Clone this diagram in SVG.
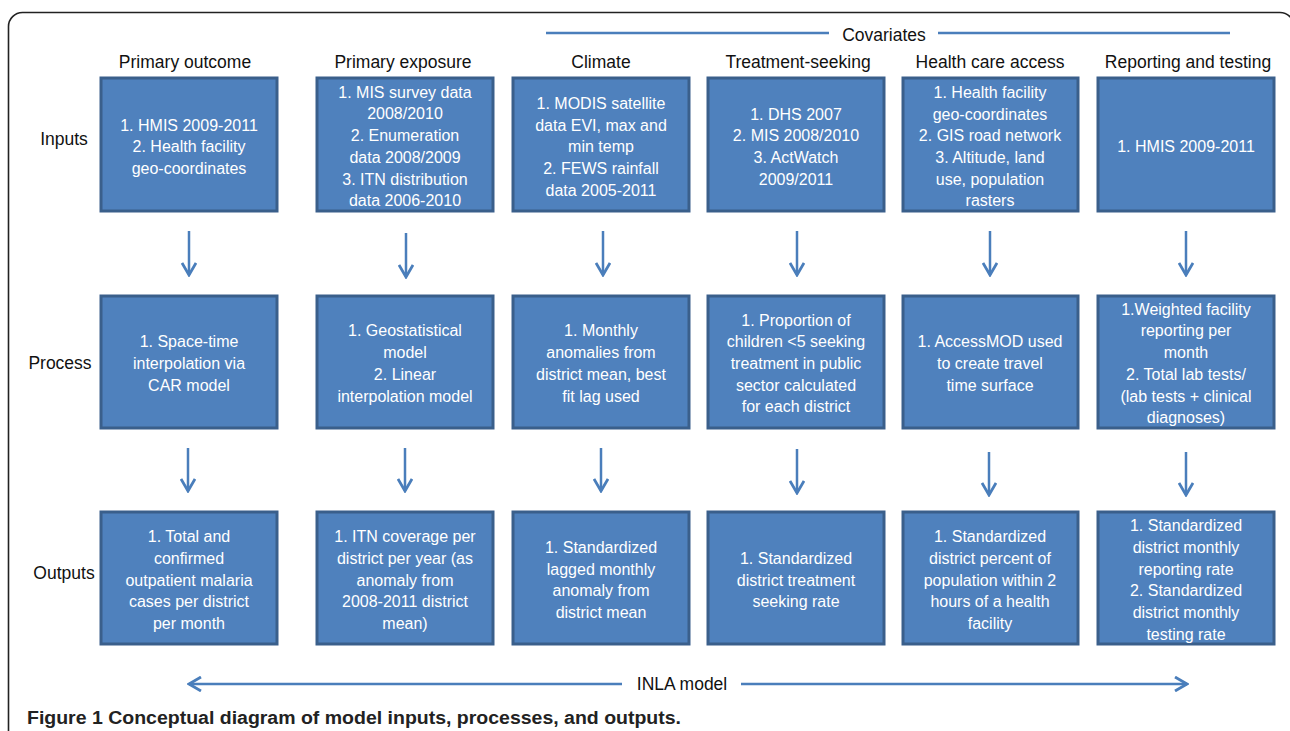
<svg xmlns="http://www.w3.org/2000/svg" width="1290" height="731" viewBox="0 0 1290 731">
<defs>
<style>
.box{fill:#4F81BD;stroke:#3A5F8B;stroke-width:3}
.bt{font-family:"Liberation Sans",Arial,sans-serif;font-size:16px;fill:#FFFFFF;text-anchor:middle}
.hd{font-family:"Liberation Sans",Arial,sans-serif;font-size:17.5px;fill:#111;text-anchor:middle}
.con{stroke:#4A7EBB;stroke-width:2.5;fill:none}
.cap{font-family:"Liberation Sans",Arial,sans-serif;font-size:18px;font-weight:bold;fill:#222}
</style>
<marker id="ah" viewBox="0 0 16 16" refX="14" refY="8" markerWidth="16" markerHeight="16" markerUnits="userSpaceOnUse" orient="auto-start-reverse">
<path d="M2,1 L14,8 L2,15" fill="none" stroke="#4A7EBB" stroke-width="2.8"/>
</marker>
</defs>
<rect width="1290" height="731" fill="#FFFFFF"/>
<rect x="8.5" y="12.5" width="1285.5" height="760" rx="14" fill="none" stroke="#222" stroke-width="1.6"/>

<!-- headers -->
<g id="headers">
<text class="hd" x="884" y="41">Covariates</text>
<text class="hd" x="185" y="68">Primary outcome</text>
<text class="hd" x="403" y="68">Primary exposure</text>
<text class="hd" x="601" y="68">Climate</text>
<text class="hd" x="798" y="68">Treatment-seeking</text>
<text class="hd" x="990" y="68">Health care access</text>
<text class="hd" x="1188" y="68">Reporting and testing</text>
<text class="hd" x="64" y="145">Inputs</text>
<text class="hd" x="60" y="369">Process</text>
<text class="hd" x="64" y="579">Outputs</text>
</g>

<g id="connectors">
<line class="con" x1="546" y1="33" x2="829" y2="33"/>
<line class="con" x1="938" y1="33" x2="1230" y2="33"/>
<line class="con" x1="189" y1="231" x2="189" y2="275" marker-end="url(#ah)"/>
<line class="con" x1="406" y1="233" x2="406" y2="277" marker-end="url(#ah)"/>
<line class="con" x1="603" y1="231" x2="603" y2="275" marker-end="url(#ah)"/>
<line class="con" x1="797" y1="231" x2="797" y2="275" marker-end="url(#ah)"/>
<line class="con" x1="990" y1="231" x2="990" y2="275" marker-end="url(#ah)"/>
<line class="con" x1="1186" y1="231" x2="1186" y2="275" marker-end="url(#ah)"/>
<line class="con" x1="188" y1="448" x2="188" y2="491" marker-end="url(#ah)"/>
<line class="con" x1="405" y1="448" x2="405" y2="491" marker-end="url(#ah)"/>
<line class="con" x1="601" y1="448" x2="601" y2="491" marker-end="url(#ah)"/>
<line class="con" x1="797" y1="449" x2="797" y2="493" marker-end="url(#ah)"/>
<line class="con" x1="989" y1="452" x2="989" y2="495" marker-end="url(#ah)"/>
<line class="con" x1="1186" y1="452" x2="1186" y2="495" marker-end="url(#ah)"/>
<line class="con" x1="622" y1="684" x2="189" y2="684" marker-end="url(#ah)"/>
<line class="con" x1="741" y1="684" x2="1187" y2="684" marker-end="url(#ah)"/>
<text class="hd" x="682" y="690">INLA model</text>
</g>

<!-- Inputs row -->
<g id="in-outcome">
<rect class="box" x="101" y="78" width="176" height="133"/>
<text class="bt"><tspan x="189" y="131">1. HMIS 2009-2011</tspan><tspan x="189" y="152">2. Health facility</tspan><tspan x="189" y="174">geo-coordinates</tspan></text>
</g>
<g id="in-exposure">
<rect class="box" x="317" y="78" width="176" height="133"/>
<text class="bt"><tspan x="405" y="98">1. MIS survey data</tspan><tspan x="405" y="119">2008/2010</tspan><tspan x="405" y="141">2. Enumeration</tspan><tspan x="405" y="163">data 2008/2009</tspan><tspan x="405" y="185">3. ITN distribution</tspan><tspan x="405" y="206">data 2006-2010</tspan></text>
</g>
<g id="in-climate">
<rect class="box" x="513" y="78" width="176" height="133"/>
<text class="bt"><tspan x="601" y="109">1. MODIS satellite</tspan><tspan x="601" y="131">data EVI, max and</tspan><tspan x="601" y="152">min temp</tspan><tspan x="601" y="174">2. FEWS rainfall</tspan><tspan x="601" y="196">data 2005-2011</tspan></text>
</g>
<g id="in-treatment">
<rect class="box" x="708" y="78" width="176" height="133"/>
<text class="bt"><tspan x="796" y="120">1. DHS 2007</tspan><tspan x="796" y="141">2. MIS 2008/2010</tspan><tspan x="796" y="163">3. ActWatch</tspan><tspan x="796" y="185">2009/2011</tspan></text>
</g>
<g id="in-access">
<rect class="box" x="903" y="78" width="175" height="133"/>
<text class="bt"><tspan x="990" y="98">1. Health facility</tspan><tspan x="990" y="120">geo-coordinates</tspan><tspan x="990" y="141">2. GIS road network</tspan><tspan x="990" y="163">3. Altitude, land</tspan><tspan x="990" y="185">use, population</tspan><tspan x="990" y="206">rasters</tspan></text>
</g>
<g id="in-reporting">
<rect class="box" x="1098" y="78" width="176" height="133"/>
<text class="bt"><tspan x="1186" y="152">1. HMIS 2009-2011</tspan></text>
</g>

<!-- Process row -->
<g id="pr-outcome">
<rect class="box" x="101" y="296" width="176" height="132"/>
<text class="bt"><tspan x="189" y="347">1. Space-time</tspan><tspan x="189" y="369">interpolation via</tspan><tspan x="189" y="391">CAR model</tspan></text>
</g>
<g id="pr-exposure">
<rect class="box" x="317" y="296" width="176" height="132"/>
<text class="bt"><tspan x="405" y="336">1. Geostatistical</tspan><tspan x="405" y="358">model</tspan><tspan x="405" y="380">2. Linear</tspan><tspan x="405" y="402">interpolation model</tspan></text>
</g>
<g id="pr-climate">
<rect class="box" x="513" y="296" width="176" height="132"/>
<text class="bt"><tspan x="601" y="336">1. Monthly</tspan><tspan x="601" y="358">anomalies from</tspan><tspan x="601" y="380">district mean, best</tspan><tspan x="601" y="402">fit lag used</tspan></text>
</g>
<g id="pr-treatment">
<rect class="box" x="708" y="296" width="176" height="132"/>
<text class="bt"><tspan x="796" y="326">1. Proportion of</tspan><tspan x="796" y="347">children &lt;5 seeking</tspan><tspan x="796" y="369">treatment in public</tspan><tspan x="796" y="391">sector calculated</tspan><tspan x="796" y="412">for each district</tspan></text>
</g>
<g id="pr-access">
<rect class="box" x="903" y="296" width="175" height="132"/>
<text class="bt"><tspan x="990" y="347">1. AccessMOD used</tspan><tspan x="990" y="369">to create travel</tspan><tspan x="990" y="391">time surface</tspan></text>
</g>
<g id="pr-reporting">
<rect class="box" x="1098" y="296" width="176" height="132"/>
<text class="bt"><tspan x="1186" y="315">1.Weighted facility</tspan><tspan x="1186" y="336">reporting per</tspan><tspan x="1186" y="358">month</tspan><tspan x="1186" y="380">2. Total lab tests/</tspan><tspan x="1186" y="402">(lab tests + clinical</tspan><tspan x="1186" y="423">diagnoses)</tspan></text>
</g>

<!-- Outputs row -->
<g id="out-outcome">
<rect class="box" x="101" y="512" width="176" height="132"/>
<text class="bt"><tspan x="189" y="542">1. Total and</tspan><tspan x="189" y="564">confirmed</tspan><tspan x="189" y="586">outpatient malaria</tspan><tspan x="189" y="607">cases per district</tspan><tspan x="189" y="629">per month</tspan></text>
</g>
<g id="out-exposure">
<rect class="box" x="317" y="512" width="176" height="132"/>
<text class="bt"><tspan x="405" y="542">1. ITN coverage per</tspan><tspan x="405" y="564">district per year (as</tspan><tspan x="405" y="586">anomaly from</tspan><tspan x="405" y="607">2008-2011 district</tspan><tspan x="405" y="629">mean)</tspan></text>
</g>
<g id="out-climate">
<rect class="box" x="513" y="512" width="176" height="132"/>
<text class="bt"><tspan x="601" y="553">1. Standardized</tspan><tspan x="601" y="575">lagged monthly</tspan><tspan x="601" y="596">anomaly from</tspan><tspan x="601" y="618">district mean</tspan></text>
</g>
<g id="out-treatment">
<rect class="box" x="708" y="512" width="176" height="132"/>
<text class="bt"><tspan x="796" y="564">1. Standardized</tspan><tspan x="796" y="586">district treatment</tspan><tspan x="796" y="607">seeking rate</tspan></text>
</g>
<g id="out-access">
<rect class="box" x="903" y="512" width="175" height="132"/>
<text class="bt"><tspan x="990" y="542">1. Standardized</tspan><tspan x="990" y="564">district percent of</tspan><tspan x="990" y="586">population within 2</tspan><tspan x="990" y="607">hours of a health</tspan><tspan x="990" y="629">facility</tspan></text>
</g>
<g id="out-reporting">
<rect class="box" x="1098" y="512" width="176" height="132"/>
<text class="bt"><tspan x="1186" y="531">1. Standardized</tspan><tspan x="1186" y="553">district monthly</tspan><tspan x="1186" y="575">reporting rate</tspan><tspan x="1186" y="596">2. Standardized</tspan><tspan x="1186" y="618">district monthly</tspan><tspan x="1186" y="640">testing rate</tspan></text>
</g>

<text class="cap" x="27" y="724" textLength="654" lengthAdjust="spacingAndGlyphs">Figure 1 Conceptual diagram of model inputs, processes, and outputs.</text>
</svg>
